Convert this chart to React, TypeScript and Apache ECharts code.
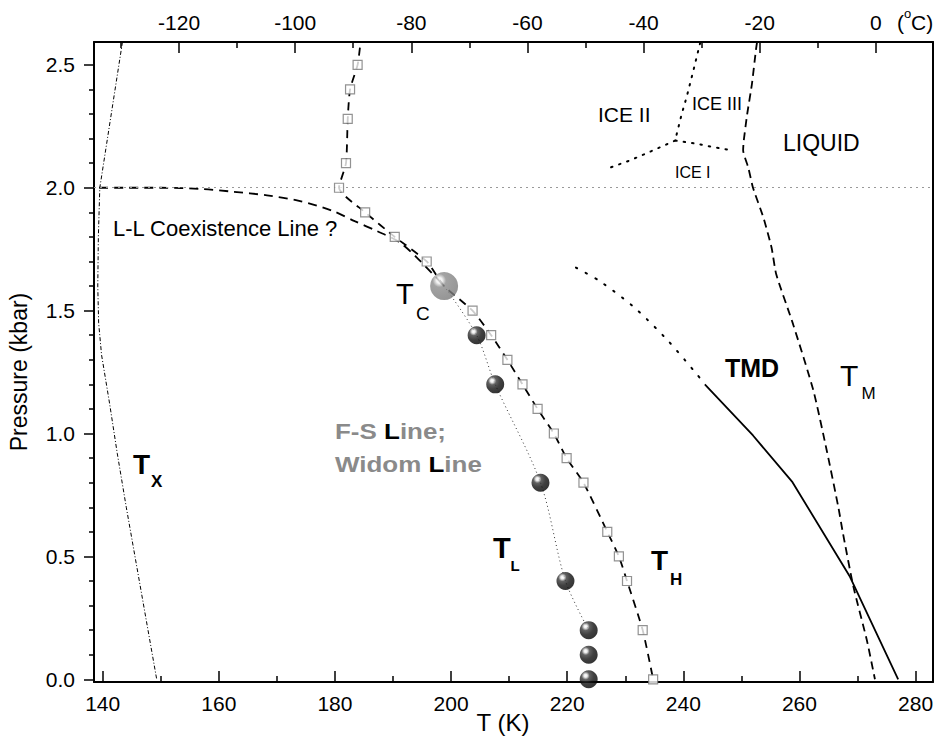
import React, { useEffect, useRef } from 'react';
import * as echarts from 'echarts';

// ---- axis ranges & ticks ----
const xMin = 138.5;
const xMax = 283;
const yMin = -0.011;
const yMax = 2.593;
const K0 = 273.15;
const xTicksK = [140, 160, 180, 200, 220, 240, 260, 280];
const xMinorK = [150, 170, 190, 210, 230, 250, 270];
const xTicksC = [-120, -100, -80, -60, -40, -20, 0];
const xMinorC = [-130, -110, -90, -70, -50, -30, -10];
const yTicks = [0, 0.5, 1.0, 1.5, 2.0, 2.5];
const yMinor = [0.1, 0.2, 0.3, 0.4, 0.6, 0.7, 0.8, 0.9, 1.1, 1.2, 1.3, 1.4, 1.6, 1.7, 1.8, 1.9, 2.1, 2.2, 2.3, 2.4];

// ---- T_H open squares ----
const thSqT = [183.9, 182.6, 182.2, 181.9, 180.7, 185.2, 190.3, 195.8, 203.7, 206.9, 209.7, 212.3, 214.9, 217.7, 219.9, 222.8, 226.9, 228.9, 230.3, 233.0, 234.8];
const thSqP = [2.5, 2.4, 2.28, 2.1, 2.0, 1.9, 1.8, 1.7, 1.5, 1.4, 1.3, 1.2, 1.1, 1.0, 0.9, 0.8, 0.6, 0.5, 0.4, 0.2, 0.0];
// dashed curve through the squares (with Tc and upper end)
const thLineT = [184.3, 183.9, 182.6, 182.2, 181.9, 180.7, 185.2, 190.3, 195.8, 198.8, 203.7, 206.9, 209.7, 212.3, 214.9, 217.7, 219.9, 222.8, 226.9, 228.9, 230.3, 233.0, 234.8];
const thLineP = [2.57, 2.5, 2.4, 2.28, 2.1, 2.0, 1.9, 1.8, 1.7, 1.6, 1.5, 1.4, 1.3, 1.2, 1.1, 1.0, 0.9, 0.8, 0.6, 0.5, 0.4, 0.2, 0.0];

// ---- L-L coexistence line ----
const llT = [139.4, 150, 157, 162.4, 168.3, 174, 179.7, 183.4, 187.2, 191, 194.1, 198.8];
const llP = [2.0, 2.0, 1.995, 1.984, 1.969, 1.946, 1.905, 1.864, 1.824, 1.78, 1.716, 1.6];

// ---- critical point & T_L spheres ----
const tcT = [198.8];
const tcP = [1.6];
const tlT = [204.4, 207.6, 215.4, 219.7, 223.7, 223.7, 223.7];
const tlP = [1.4, 1.2, 0.8, 0.4, 0.2, 0.1, 0.0];
// Widom (dotted) line
const widomT = [198.8, 204.4, 207.6, 215.4, 219.7, 223.7];
const widomP = [1.6, 1.4, 1.2, 0.8, 0.4, 0.2];

// ---- ice phase boundaries ----
const ice23T = [242.9, 241.7, 240.6, 239.7, 238.7];
const ice23P = [2.59, 2.474, 2.372, 2.298, 2.203];
const ice12T = [238.6, 234.5, 230.9, 226.6];
const ice12P = [2.192, 2.149, 2.112, 2.075];
const ice13T = [238.6, 242.3, 245.2, 248.5];
const ice13P = [2.192, 2.179, 2.165, 2.152];

// ---- melting line T_M ----
const tmT = [252.7, 252.5, 251.8, 251.0, 250.4, 250.3, 251.2, 252.0, 253.8, 255.2, 256.0, 258.9, 262.4, 264.7, 266.7, 267.5, 269.3, 271.6, 273.0];
const tmP = [2.593, 2.56, 2.42, 2.30, 2.19, 2.153, 2.081, 2.0, 1.878, 1.756, 1.648, 1.445, 1.175, 0.931, 0.70, 0.593, 0.376, 0.16, 0.0];

// ---- TMD ----
const tmdDotT = [221.5, 225.6, 231.4, 237.1, 242.3, 243.7];
const tmdDotP = [1.675, 1.62, 1.516, 1.384, 1.242, 1.2];
const tmdT = [243.7, 252.0, 258.8, 268.7, 277.0];
const tmdP = [1.2, 0.992, 0.802, 0.417, 0.0];

// ---- T_X ----
const txT = [143.4, 139.5, 139.25, 139.15, 139.3, 139.8, 141.2, 142.5, 144.06, 149.3];
const txP = [2.593, 2.0, 1.8, 1.6, 1.45, 1.32, 1.12, 0.92, 0.70, 0.0];

const zip = (a: number[], b: number[]) => a.map((v, i) => [v, b[i]]);

const FONT = '"Liberation Sans", Arial, Helvetica, sans-serif';

function lineSeries(name: string, T: number[], P: number[], style: any, smooth: boolean | number = false, z = 2) {
  return {
    name,
    type: 'line',
    data: zip(T, P),
    showSymbol: false,
    symbol: 'none',
    smooth,
    z,
    lineStyle: style,
    silent: true,
  };
}

const sphereBlack = {
  type: 'radial', x: 0.33, y: 0.3, r: 0.75,
  colorStops: [
    { offset: 0, color: '#ffffff' },
    { offset: 0.12, color: '#e8e8e8' },
    { offset: 0.3, color: '#3a3a3a' },
    { offset: 0.6, color: '#111111' },
    { offset: 1, color: '#000000' },
  ],
};
const sphereGray = {
  type: 'radial', x: 0.33, y: 0.3, r: 0.75,
  colorStops: [
    { offset: 0, color: '#ffffff' },
    { offset: 0.14, color: '#eeeeee' },
    { offset: 0.32, color: '#8c8c8c' },
    { offset: 1, color: '#7a7a7a' },
  ],
};

function txt(text: string, x: number, y: number, fontSize: number, opts: any = {}) {
  return {
    type: 'text',
    x, y,
    silent: true,
    z: 100,
    rotation: opts.rotation || 0,
    scaleX: opts.scaleX || 1,
    style: {
      text,
      fontSize,
      fontFamily: FONT,
      fontWeight: opts.bold ? 'bold' : 'normal',
      fill: opts.fill || '#000',
      align: opts.align || 'left',
      verticalAlign: 'middle',
      rich: opts.rich,
    },
  };
}

function minorXAxis(position: string, min: number, max: number, values: number[]) {
  return {
    type: 'value', position, min, max,
    axisLine: { show: false, onZero: false },
    axisTick: { show: true, inside: true, length: 6, lineStyle: { color: '#000', width: 1.5 }, customValues: values },
    axisLabel: { show: false },
    minorTick: { show: false },
    splitLine: { show: false },
  };
}

export default function App() {
  const ref = useRef<HTMLDivElement>(null);
  useEffect(() => {
    if (!ref.current) return;
    const chart = echarts.init(ref.current, undefined, { renderer: 'svg' });
    const axisLineStyle = { color: '#000', width: 2 };
    const tickLineStyle = { color: '#000', width: 1.5 };
    const richFS = {
      g: { fill: '#8a8a8a', fontSize: 22, fontWeight: 'bold', fontFamily: FONT },
      b: { fill: '#000', fontSize: 22, fontWeight: 'bold', fontFamily: FONT },
    };
    const option: any = {
      animation: false,
      backgroundColor: '#fff',
      textStyle: { fontFamily: FONT },
      grid: { left: 94, top: 42, width: 839, height: 640, containLabel: false, outerBoundsMode: 'none' },
      xAxis: [
        {
          type: 'value', position: 'bottom', min: xMin, max: xMax, splitNumber: 7,
          axisLine: { show: true, onZero: false, lineStyle: axisLineStyle },
          axisTick: { show: true, inside: true, length: 11, lineStyle: tickLineStyle, customValues: xTicksK },
          minorTick: { show: false },
          axisLabel: { customValues: xTicksK, margin: 11, fontSize: 21, color: '#000', fontFamily: FONT },
          splitLine: { show: false },
        },
        {
          type: 'value', position: 'top', min: xMin - K0, max: xMax - K0, splitNumber: 7,
          axisLine: { show: true, onZero: false, lineStyle: axisLineStyle },
          axisTick: { show: true, inside: true, length: 11, lineStyle: tickLineStyle, customValues: xTicksC },
          minorTick: { show: false },
          axisLabel: { customValues: xTicksC, margin: 9, fontSize: 21, color: '#000', fontFamily: FONT },
          splitLine: { show: false },
        },
        minorXAxis('bottom', xMin, xMax, xMinorK),
        minorXAxis('top', xMin - K0, xMax - K0, xMinorC),
      ],
      yAxis: [
        {
          type: 'value', position: 'left', min: yMin, max: yMax, splitNumber: 5,
          axisLine: { show: true, onZero: false, lineStyle: axisLineStyle },
          axisTick: { show: true, inside: false, length: 10, lineStyle: tickLineStyle, customValues: yTicks },
          minorTick: { show: false },
          axisLabel: {
            customValues: yTicks, margin: 19, fontSize: 21, color: '#000', fontFamily: FONT,
            formatter: (v: number) => v.toFixed(1),
          },
          splitLine: { show: false },
        },
        {
          type: 'value', position: 'right', min: yMin, max: yMax,
          axisLine: { show: true, onZero: false, lineStyle: axisLineStyle },
          axisTick: { show: false }, axisLabel: { show: false }, minorTick: { show: false },
          splitLine: { show: false },
        },
        {
          type: 'value', position: 'left', min: yMin, max: yMax,
          axisLine: { show: false, onZero: false },
          axisTick: { show: true, inside: false, length: 5, lineStyle: tickLineStyle, customValues: yMinor },
          axisLabel: { show: false }, minorTick: { show: false },
          splitLine: { show: false },
        },
      ],
      series: [
        {
          ...lineSeries('T_X', txT, txP, { color: '#000', width: 1, type: [4, 2, 1, 2] }),
          markLine: {
            silent: true, symbol: 'none', label: { show: false },
            lineStyle: { color: '#999', width: 1, type: [2, 4] },
            data: [{ yAxis: 2.0 }],
          },
        },
        lineSeries('L-L', llT, llP, { color: '#000', width: 1.8, type: [9, 6] }, 0.3),
        lineSeries('T_H line', thLineT, thLineP, { color: '#000', width: 1.8, type: [8, 6] }, 0.2),
        lineSeries('Widom', widomT, widomP, { color: '#333', width: 1, type: [1, 3] }, 0.3),
        lineSeries('ICE II/III', ice23T, ice23P, { color: '#000', width: 2, type: [1.5, 7], cap: 'round' }),
        lineSeries('ICE I/II', ice12T, ice12P, { color: '#000', width: 2, type: [1.5, 7], cap: 'round' }),
        lineSeries('ICE I/III', ice13T, ice13P, { color: '#000', width: 2, type: [1.5, 7], cap: 'round' }),
        lineSeries('T_M', tmT, tmP, { color: '#000', width: 1.8, type: [8, 5] }, 0.2),
        lineSeries('TMD dotted', tmdDotT, tmdDotP, { color: '#000', width: 2, type: [1.5, 9.5], cap: 'round' }, 0.3),
        lineSeries('TMD', tmdT, tmdP, { color: '#000', width: 1.8, type: 'solid' }),
        {
          name: 'T_H squares', type: 'scatter', data: zip(thSqT, thSqP), symbol: 'rect', symbolSize: 9, z: 5,
          itemStyle: { color: '#fff', borderColor: '#777', borderWidth: 1.2 }, silent: true,
        },
        {
          name: 'T_L', type: 'scatter', data: zip(tlT, tlP), symbol: 'circle', symbolSize: 18, z: 6,
          itemStyle: { color: sphereBlack }, silent: true,
        },
        {
          name: 'T_C', type: 'scatter', data: zip(tcT, tcP), symbol: 'circle', symbolSize: 28, z: 7,
          itemStyle: { color: sphereGray }, silent: true,
        },
      ],
      graphic: [
        txt('Pressure (kbar)', 19, 372, 23, { rotation: Math.PI / 2, align: 'center' }),
        txt('T (K)', 503, 722, 24, { align: 'center' }),
        txt('(', 897, 22, 21),
        txt('o', 904, 13, 13),
        txt('C)', 911, 22, 21),
        txt('L-L Coexistence Line ?', 113, 228, 22),
        txt('ICE II', 598, 114, 21),
        txt('ICE III', 692, 104, 18),
        txt('ICE I', 675, 172, 16),
        txt('LIQUID', 783, 143, 23),
        txt('T', 396, 294, 29),
        txt('C', 416, 313, 19),
        txt('T', 133, 464, 28, { bold: true }),
        txt('X', 151, 481, 17, { bold: true }),
        txt('T', 493, 548, 29, { bold: true }),
        txt('L', 510.5, 565, 15, { bold: true }),
        txt('T', 651, 560.5, 28, { bold: true }),
        txt('H', 670, 579, 17, { bold: true }),
        txt('TMD', 725, 368, 25, { bold: true }),
        txt('T', 840, 375, 30),
        txt('M', 861.5, 393, 17),
        txt('{g|F-S }{b|L}{g|ine;}', 335, 431, 22, { bold: true, fill: '#8a8a8a', rich: richFS, scaleX: 1.18 }),
        txt('{g|Widom }{b|L}{g|ine}', 335, 464, 22, { bold: true, fill: '#8a8a8a', rich: richFS, scaleX: 1.18 }),
      ],
    };
    chart.setOption(option);
    return () => chart.dispose();
  }, []);
  return (
    <div
      ref={ref}
      style={{ position: 'fixed', left: 0, top: 0, width: 934, height: 742, background: '#fff' }}
    />
  );
}
